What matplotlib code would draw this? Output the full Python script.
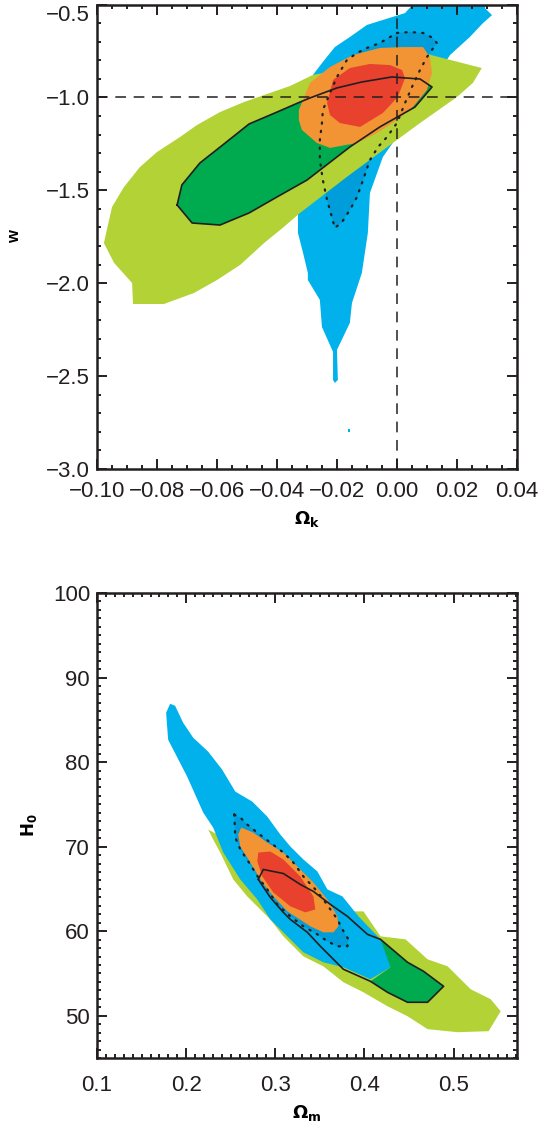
import numpy as np
import matplotlib
matplotlib.use("Agg")
import matplotlib.pyplot as plt
from matplotlib.ticker import MultipleLocator, FuncFormatter

plt.rcParams['font.family'] = ['Liberation Sans', 'DejaVu Sans']

# colours of the confidence regions
c_lgreen = '#B2D235'
c_dgreen = '#00AA4E'
c_blue = '#00B1EB'
c_dblue = '#009DDB'
c_orange = '#F29433'
c_red = '#E8412E'

# ---------------- top panel : Omega_k vs w ----------------
ok_lgreen = [-0.088, -0.0777, -0.0677, -0.060, -0.0523, -0.0443, -0.0377, -0.0323, -0.0167, 0.0,
             0.0077, 0.020, 0.0253, 0.0283, 0.010, -0.028, -0.0357, -0.0443, -0.051, -0.059,
             -0.0667, -0.0723, -0.080, -0.0857, -0.091, -0.095, -0.0977, -0.0943, -0.0883, -0.088]
w_lgreen = [-2.112, -2.112, -2.053, -1.983, -1.902, -1.784, -1.697, -1.622, -1.428, -1.229,
            -1.138, -0.998, -0.9225, -0.842, -0.766, -0.879, -0.939, -0.987, -1.025, -1.079,
            -1.149, -1.213, -1.294, -1.375, -1.482, -1.59, -1.784, -1.891, -1.999, -2.112]

ok_solid = [-0.0733, -0.0717, -0.0657, -0.0577, -0.0493, -0.040, -0.0323, -0.029, -0.020, -0.0117,
            -0.0017, 0.0077, 0.0117, 0.006, -0.0057, -0.0157, -0.030, -0.040, -0.0493, -0.059,
            -0.0683, -0.0733]
w_solid = [-1.579, -1.471, -1.353, -1.251, -1.143, -1.079, -1.025, -1.003, -0.949, -0.917,
           -0.890, -0.901, -0.944, -1.052, -1.159, -1.267, -1.445, -1.536, -1.622, -1.687,
           -1.676, -1.579]

ok_blue = [0.0053, 0.0027, -0.010, -0.0157, -0.0207, -0.0247, -0.028, -0.0323, -0.033, -0.033,
           -0.0313, -0.0297, -0.0297, -0.0257, -0.025, -0.0213, -0.0213, -0.0207, -0.0197, -0.020,
           -0.0157, -0.015, -0.0117, -0.0097, -0.009, -0.0047, 0.0, 0.0177, 0.0243, 0.0287,
           0.0317, 0.0293, 0.030]
w_blue = [-0.5, -0.546, -0.610, -0.675, -0.729, -0.809, -0.879, -1.283, -1.644, -1.73,
          -1.837, -1.945, -1.983, -2.090, -2.236, -2.370, -2.521, -2.537, -2.521, -2.359,
          -2.214, -2.107, -1.945, -1.73, -1.5145, -1.321, -1.213, -0.772, -0.675, -0.600,
          -0.557, -0.519, -0.5]
ok_blue_dot = [-0.0163, -0.0157, -0.0157, -0.0163]
w_blue_dot = [-2.785, -2.785, -2.80, -2.80]

ok_dotted = [0.0, 0.0043, 0.0087, 0.012, 0.0133, 0.010, 0.0077, 0.005, 0.0027, 0.0,
             -0.0033, -0.0063, -0.009, -0.0113, -0.0133, -0.0157, -0.0183, -0.0207, -0.0217, -0.0233,
             -0.0247, -0.0257, -0.0257, -0.025, -0.0247, -0.0223, -0.020, -0.0167, -0.0133, -0.010,
             -0.0057, -0.0023, 0.0]
w_dotted = [-0.653, -0.648, -0.653, -0.680, -0.707, -0.783, -0.8525, -0.944, -1.030, -1.138,
            -1.213, -1.267, -1.337, -1.445, -1.536, -1.606, -1.671, -1.703, -1.644, -1.552,
            -1.445, -1.337, -1.229, -1.138, -1.068, -0.976, -0.890, -0.799, -0.761, -0.734,
            -0.707, -0.675, -0.653]

ok_orange = [-0.0327, -0.029, -0.0223, -0.0147, -0.0057, 0.002, 0.0087, 0.011, 0.0117, 0.010,
             0.0053, 0.0, -0.0067, -0.0133, -0.0223, -0.0267, -0.0317, -0.0327, -0.0327]
w_orange = [-1.068, -0.9225, -0.836, -0.772, -0.734, -0.729, -0.729, -0.783, -0.869, -0.960,
            -1.052, -1.122, -1.192, -1.245, -1.272, -1.245, -1.175, -1.122, -1.068]

ok_red = [-0.0233, -0.0213, -0.0157, -0.009, -0.0023, 0.0017, 0.0027, 0.0003, -0.0047, -0.0123,
          -0.019, -0.0223, -0.0233]
w_red = [-1.030, -0.906, -0.842, -0.820, -0.826, -0.8525, -0.896, -0.998, -1.084, -1.159,
         -1.138, -1.095, -1.030]

# ---------------- bottom panel : Omega_m vs H0 ----------------
om_lgreen = [0.2247, 0.2303, 0.2382, 0.2528, 0.2685, 0.2865, 0.2944, 0.309, 0.3315, 0.3539,
             0.3764, 0.3989, 0.4258, 0.4483, 0.4708, 0.5045, 0.5393, 0.5528, 0.5416, 0.5191,
             0.4933, 0.4708, 0.4461, 0.418, 0.3989, 0.3843, 0.328, 0.2247]
h0_lgreen = [72.02, 70.84, 69.30, 66.12, 64.11, 62.22, 61.39, 59.39, 57.02, 55.84,
             53.96, 52.77, 51.12, 49.94, 48.41, 48.05, 48.17, 50.53, 51.95, 53.13,
             55.84, 56.67, 59.03, 59.39, 62.34, 62.34, 66.12, 72.02]

om_blue = [0.182, 0.1775, 0.1798, 0.2011, 0.2191, 0.2303, 0.2416, 0.2607, 0.2798, 0.2944,
           0.3022, 0.3169, 0.3315, 0.3539, 0.3764, 0.4067, 0.4292, 0.4292, 0.418, 0.3933,
           0.3843, 0.3753, 0.3584, 0.3472, 0.3315, 0.3169, 0.3056, 0.291, 0.2742, 0.2551,
           0.2404, 0.2247, 0.2079, 0.1966, 0.1876, 0.182]
h0_blue = [86.89, 85.83, 82.64, 78.28, 74.03, 72.25, 69.30, 66.12, 63.75, 61.39,
           60.57, 59.03, 57.50, 56.32, 55.73, 54.31, 55.73, 56.32, 59.03, 61.75,
           62.93, 64.11, 64.94, 67.06, 68.48, 70.01, 71.43, 73.55, 75.32, 76.51,
           79.10, 81.23, 82.88, 84.65, 86.66, 86.89]

om_dgreen = [0.418, 0.4483, 0.4663, 0.4888, 0.4708, 0.4483, 0.4258, 0.4067, 0.4292, 0.418]
h0_dgreen = [59.03, 56.32, 55.25, 53.48, 51.59, 51.59, 52.77, 54.07, 55.73, 59.03]

om_solid = [0.2809, 0.2865, 0.309, 0.328, 0.3427, 0.3618, 0.3809, 0.4034, 0.418, 0.4483,
            0.4663, 0.4888, 0.4708, 0.4483, 0.4258, 0.4067, 0.3764, 0.3652, 0.3506, 0.336,
            0.3169, 0.309, 0.2944, 0.2809]
h0_solid = [66.12, 67.30, 66.82, 65.53, 64.70, 63.16, 61.75, 59.62, 59.03, 56.32,
            55.25, 53.48, 51.59, 51.59, 52.77, 54.07, 55.49, 56.67, 58.21, 59.86,
            61.39, 62.22, 63.99, 66.12]

om_dotted = [0.2539, 0.2607, 0.2685, 0.2798, 0.2944, 0.309, 0.3202, 0.3315, 0.3449, 0.3539,
             0.3618, 0.3697, 0.3753, 0.382, 0.3809, 0.3697, 0.3584, 0.3472, 0.3315, 0.3169,
             0.3022, 0.291, 0.2809, 0.2697, 0.2607, 0.2551, 0.2539]
h0_dotted = [73.79, 73.44, 72.61, 71.66, 70.48, 69.30, 68.12, 66.47, 64.94, 63.75,
             62.57, 61.39, 60.21, 59.03, 58.21, 58.21, 58.80, 59.62, 60.57, 61.75,
             63.16, 64.94, 66.35, 68.24, 69.66, 71.07, 73.79]

om_orange = [0.2618, 0.2753, 0.291, 0.309, 0.3247, 0.3427, 0.3584, 0.3697, 0.3708, 0.3652,
             0.3539, 0.3393, 0.3135, 0.2978, 0.2854, 0.2719, 0.2607, 0.2584, 0.2618]
h0_orange = [72.25, 71.66, 70.48, 69.30, 67.65, 65.76, 63.75, 61.75, 60.57, 59.86,
             59.86, 60.57, 62.34, 64.11, 65.76, 68.12, 70.01, 71.43, 72.25]

om_red = [0.2809, 0.2944, 0.309, 0.328, 0.3427, 0.3449, 0.3337, 0.3169, 0.2978, 0.2854,
          0.2798, 0.2809]
h0_red = [69.30, 69.42, 68.48, 66.47, 64.11, 62.57, 62.22, 62.93, 64.58, 66.47,
          68.24, 69.30]


def fmt(f):
    # unicode minus, and no "-0.00"
    return FuncFormatter(lambda v, p: (f % (v + 0.0 if abs(v) > 1e-9 else 0.0)).replace('-', '\u2212'))


def style_axes(ax, xmaj, xmin, ymaj, ymin, xfmt, yfmt, xpad):
    ax.xaxis.set_major_locator(MultipleLocator(xmaj))
    ax.xaxis.set_minor_locator(MultipleLocator(xmin))
    ax.yaxis.set_major_locator(MultipleLocator(ymaj))
    ax.yaxis.set_minor_locator(MultipleLocator(ymin))
    ax.xaxis.set_major_formatter(fmt(xfmt))
    ax.yaxis.set_major_formatter(fmt(yfmt))
    ax.tick_params(which='both', direction='in', top=True, right=True, width=1.4, color='#231F20')
    ax.tick_params(which='major', length=7, labelsize=16, labelcolor='#231F20')
    ax.tick_params(axis='x', which='major', pad=xpad)
    ax.tick_params(axis='y', which='major', pad=5)
    ax.tick_params(which='minor', length=3)
    for s in ax.spines.values():
        s.set_linewidth(1.8)
        s.set_color('#231F20')


fig = plt.figure(figsize=(5.39, 11.26), dpi=100)

ax1 = fig.add_axes([0.180, 0.5835, 0.779, 0.4125])
ax1.fill(ok_blue, w_blue, color=c_blue, lw=0)
ax1.fill(ok_blue_dot, w_blue_dot, color=c_blue, lw=0)
ax1.fill(ok_dotted, w_dotted, color=c_dblue, lw=0)
ax1.fill(ok_lgreen, w_lgreen, color=c_lgreen, lw=0)
ax1.fill(ok_solid, w_solid, color=c_dgreen, lw=0)
ax1.fill(ok_orange, w_orange, color=c_orange, lw=0)
ax1.fill(ok_red, w_red, color=c_red, lw=0)
ax1.plot(ok_solid, w_solid, color='#231F20', lw=1.2)
ax1.plot(ok_dotted, w_dotted, color='#231F20', lw=1.6, ls=(0, (0.6, 3.2)), dash_capstyle='round')
ax1.axhline(-1.0, color='#231F20', lw=1.1, ls=(0, (7, 5)))
ax1.axvline(0.0, color='#231F20', lw=1.1, ls=(0, (7, 5)))
ax1.set_xlim(-0.10, 0.04)
ax1.set_ylim(-3.0, -0.5)
style_axes(ax1, 0.02, 0.005, 0.5, 0.1, '%.2f', '%.1f', 9)
ax1.set_xlabel(r'$\mathbf{\Omega_k}$', fontsize=13, labelpad=5)
ax1.set_ylabel('w', fontsize=12, fontweight='bold', labelpad=17)

ax2 = fig.add_axes([0.180, 0.0604, 0.779, 0.413])
ax2.fill(om_lgreen, h0_lgreen, color=c_lgreen, lw=0)
ax2.fill(om_blue, h0_blue, color=c_blue, lw=0)
ax2.fill(om_dotted, h0_dotted, color=c_dblue, lw=0)
ax2.fill(om_dgreen, h0_dgreen, color=c_dgreen, lw=0)
ax2.fill(om_orange, h0_orange, color=c_orange, lw=0)
ax2.fill(om_red, h0_red, color=c_red, lw=0)
ax2.plot(om_solid, h0_solid, color='#231F20', lw=1.2)
ax2.plot(om_dotted, h0_dotted, color='#231F20', lw=1.6, ls=(0, (0.6, 3.2)), dash_capstyle='round')
ax2.set_xlim(0.1, 0.571)
ax2.set_ylim(45, 100)
style_axes(ax2, 0.1, 0.01, 10, 1, '%.1f', '%d', 12)
ax2.set_xlabel(r'$\mathbf{\Omega_m}$', fontsize=13, labelpad=5)
ax2.set_ylabel(r'$\mathbf{H_0}$', fontsize=12, labelpad=10)

# the top label of the upper panel sits just below the frame edge, as in the original
fig.canvas.draw()
for tick in ax1.yaxis.get_major_ticks():
    if abs(tick.get_loc() + 0.5) < 1e-6:
        tick.label1.set_va('top')

fig.savefig('out.png', dpi=100)
